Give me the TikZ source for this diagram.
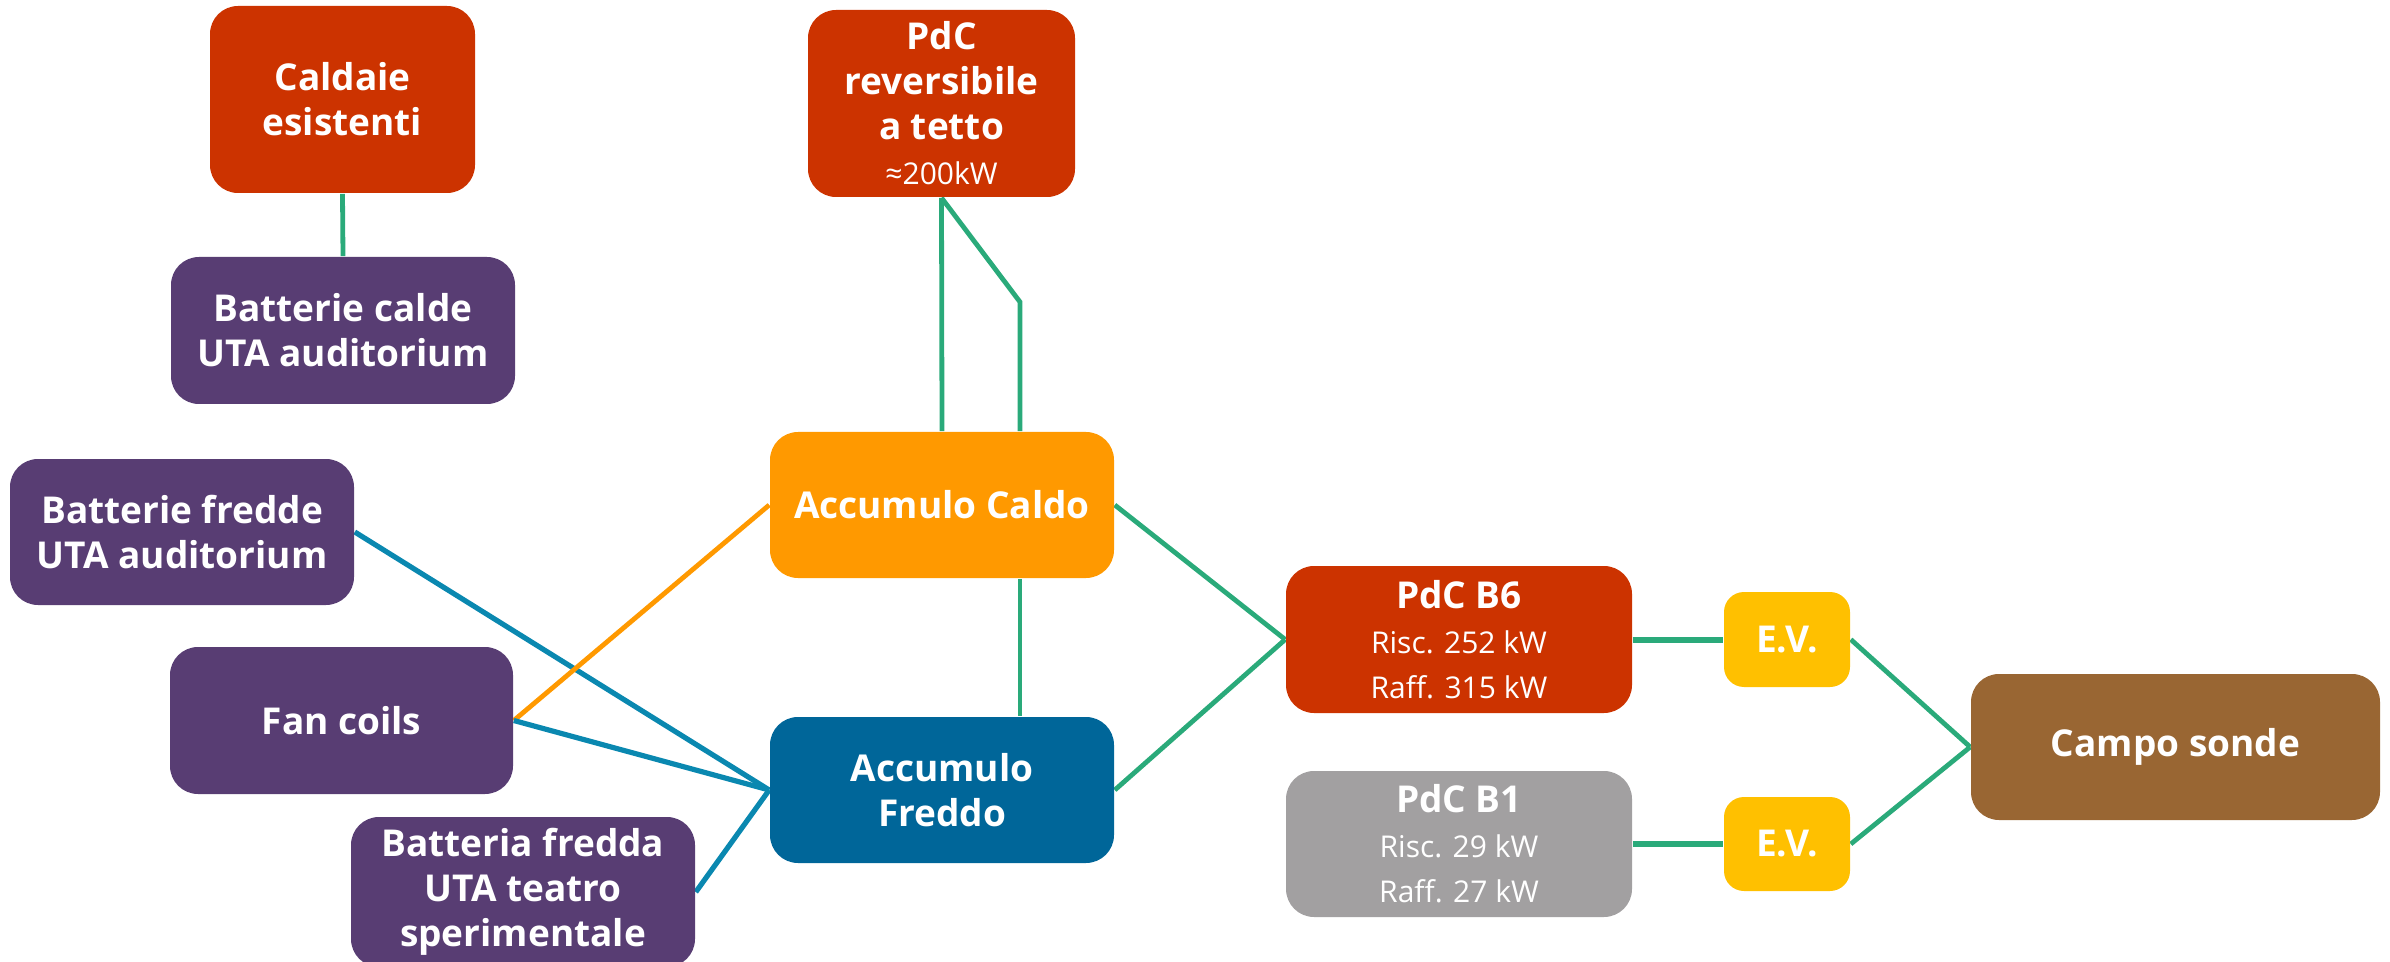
\documentclass[tikz,border=0pt]{standalone}
\usepackage{fontspec}
\setmainfont{Open Sans}
\usetikzlibrary{backgrounds}
\definecolor{cred}{HTML}{CC3300}
\definecolor{cpurple}{HTML}{583D73}
\definecolor{corange}{HTML}{FF9900}
\definecolor{cblue}{HTML}{006699}
\definecolor{cgray}{HTML}{A2A0A1}
\definecolor{cyellow}{HTML}{FFC000}
\definecolor{cbrown}{HTML}{996633}
\definecolor{lgreen}{HTML}{2AAA7A}
\definecolor{lblue}{HTML}{0A88B0}
\definecolor{lorange}{HTML}{FF9900}
\newcommand{\smtxt}{\fontsize{7.5}{9.5}\selectfont\mdseries}
\begin{document}
\begin{tikzpicture}[x=0.25pt,y=-0.25pt,
  box/.style={rounded corners=7pt, inner sep=0pt, align=center, text=white,
    font=\fontsize{9.25}{11.25}\selectfont\bfseries},
  sz/.style 2 args={minimum width={#1*0.25pt}, minimum height={#2*0.25pt}},
  gl/.style={draw=lgreen, line width=1.2pt},
  bl/.style={draw=lblue, line width=1.3pt},
  ol/.style={draw=lorange, line width=1.2pt}]
\useasboundingbox (0,0) rectangle (2390,962);
\node[box, fill=cred, sz={265}{187}] (cald) at (342.5,99.5) {Caldaie\\esistenti};
\node[box, fill=cred, sz={267}{187}] (pdcr) at (941.5,103.5) {PdC\\reversibile\\a tetto\\\smtxt ≈200kW};
\node[box, fill=cpurple, sz={344}{147}] (bcalde) at (343,330.5) {Batterie calde\\UTA auditorium};
\node[box, fill=cpurple, sz={344}{146}] (bfredde) at (182,532) {Batterie fredde\\UTA auditorium};
\node[box, fill=corange, sz={344}{146}] (acaldo) at (942,505) {Accumulo Caldo};
\node[box, fill=cpurple, sz={343}{147}] (fan) at (341.5,720.5) {Fan coils};
\node[box, fill=cblue, sz={344}{146}] (afreddo) at (942,790) {Accumulo\\Freddo};
\node[box, fill=cpurple, sz={344}{150}] (bteatro) at (523,892) {Batteria fredda\\UTA teatro\\sperimentale};
\node[box, fill=cred, sz={346}{147}] (b6) at (1459,639.5) {PdC B6\\\smtxt Risc. 252 kW\\\smtxt Raff. 315 kW};
\node[box, fill=cgray, sz={346}{146}] (b1) at (1459,844) {PdC B1\\\smtxt Risc. 29 kW\\\smtxt Raff. 27 kW};
\node[box, rounded corners=5pt, fill=cyellow, sz={126}{95}] (ev1) at (1787,639.5) {E.V.};
\node[box, rounded corners=5pt, fill=cyellow, sz={126}{94}] (ev2) at (1787,844) {E.V.};
\node[box, fill=cbrown, sz={409}{146}] (campo) at (2175.5,747) {Campo sonde};
\coordinate (bend) at (1020,302);
\begin{pgfonlayer}{background}
\draw[gl] (cald.south) -- (bcalde.north);
\draw[gl] (pdcr.south) -- (acaldo.north);
\draw[gl] (pdcr.south) -- (bend) -- (bend |- acaldo.north);
\draw[gl] (bend |- acaldo.south) -- (bend |- afreddo.north);
\draw[bl] (bfredde.east) -- (afreddo.west);
\draw[ol] (fan.east) -- (acaldo.west);
\draw[bl] (fan.east) -- (afreddo.west);
\draw[bl] (bteatro.east) -- (afreddo.west);
\draw[gl] (acaldo.east) -- (b6.west);
\draw[gl] (afreddo.east) -- (b6.west);
\draw[gl, line width=1.5pt] (b6.east) -- (ev1.west);
\draw[gl, line width=1.5pt] (b1.east) -- (ev2.west);
\draw[gl] (ev1.east) -- (campo.west);
\draw[gl] (ev2.east) -- (campo.west);
\end{pgfonlayer}
\end{tikzpicture}
\end{document}
